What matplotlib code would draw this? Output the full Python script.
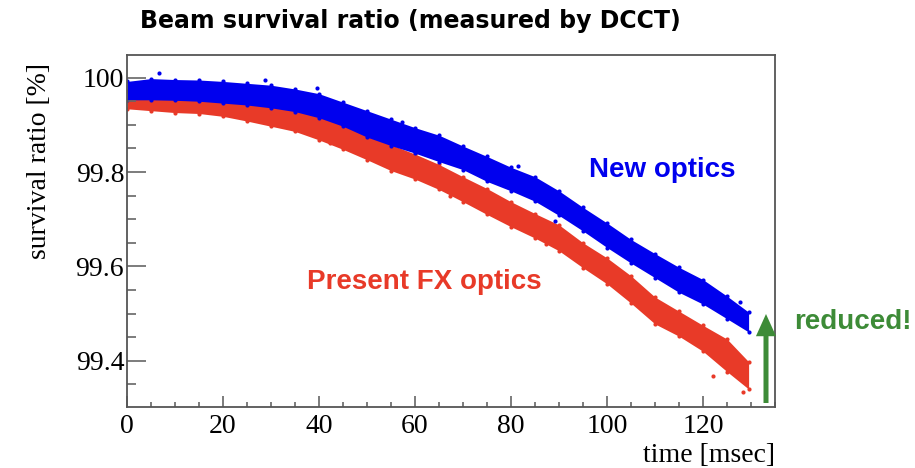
"""Beam survival ratio measured by DCCT: present FX optics vs new optics."""
import matplotlib
matplotlib.use("Agg")
import matplotlib.pyplot as plt
from matplotlib.ticker import MultipleLocator

# time [msec] at which the band edges were read
t = [0, 5, 10, 15, 20, 25, 30, 35, 40, 45, 50, 55, 60, 65, 70, 75, 80, 85,
     90, 95, 100, 105, 110, 115, 120, 125, 129.5]

# new optics (blue) band, upper / lower edge [%]
new_hi = [99.992, 99.998, 99.996, 99.995, 99.992, 99.988, 99.984, 99.976, 99.966,
          99.948, 99.930, 99.912, 99.894, 99.878, 99.855, 99.833, 99.810, 99.790,
          99.760, 99.725, 99.692, 99.657, 99.627, 99.598, 99.572, 99.537, 99.503]
new_lo = [99.953, 99.953, 99.952, 99.950, 99.946, 99.942, 99.936, 99.928, 99.915,
          99.897, 99.874, 99.856, 99.840, 99.822, 99.805, 99.780, 99.760, 99.738,
          99.708, 99.675, 99.640, 99.607, 99.576, 99.545, 99.520, 99.489, 99.461]

# present FX optics (red) band, upper / lower edge [%]
fx_hi = [99.972, 99.972, 99.970, 99.965, 99.960, 99.955, 99.948, 99.938, 99.925,
         99.900, 99.880, 99.858, 99.838, 99.816, 99.790, 99.765, 99.737, 99.712,
         99.688, 99.650, 99.618, 99.580, 99.535, 99.505, 99.475, 99.446, 99.398]
fx_lo = [99.934, 99.930, 99.926, 99.924, 99.918, 99.908, 99.897, 99.886, 99.868,
         99.848, 99.826, 99.803, 99.785, 99.763, 99.737, 99.710, 99.684, 99.660,
         99.633, 99.597, 99.563, 99.522, 99.478, 99.452, 99.420, 99.377, 99.340]

# isolated points standing out of each band
new_out_t = [6.6, 28.8, 39.6, 57.2, 81.5, 89.2, 127.7]
new_out_v = [100.010, 99.995, 99.978, 99.907, 99.812, 99.696, 99.524]
fx_out_t = [42.3, 59.0, 67.3, 87.3, 122.0, 128.4]
fx_out_v = [99.862, 99.799, 99.749, 99.647, 99.368, 99.334]

RED = "#e83a28"
BLUE = "#0000ee"
GREEN = "#3d8b37"
FRAME = "#555555"
SANS = ["Liberation Sans", "DejaVu Sans"]
SERIF = ["Liberation Serif", "DejaVu Serif"]


def band(ax, lo, hi, out_t, out_v, color):
    ax.fill_between(t, lo, hi, color=color, lw=0)
    ax.scatter(t + t, hi + lo, s=9, color=color, lw=0)
    ax.scatter(out_t, out_v, s=9, color=color, lw=0)


def main():
    W, H = 915, 468
    fig = plt.figure(figsize=(W / 100, H / 100), dpi=100)
    ax = fig.add_axes([127 / W, 1 - 407 / H, (775 - 127) / W, (407 - 55) / H])

    band(ax, fx_lo, fx_hi, fx_out_t, fx_out_v, RED)
    band(ax, new_lo, new_hi, new_out_t, new_out_v, BLUE)

    ax.set_xlim(0, 135)
    ax.set_ylim(99.302, 100.048)
    ax.xaxis.set_major_locator(MultipleLocator(20))
    ax.xaxis.set_minor_locator(MultipleLocator(5))
    ax.yaxis.set_major_locator(MultipleLocator(0.2))
    ax.yaxis.set_minor_locator(MultipleLocator(0.05))
    ax.yaxis.set_major_formatter(lambda v, p: f"{v:g}" if abs(v - 100) > 1e-6 else "100")

    for s in ax.spines.values():
        s.set_color(FRAME); s.set_linewidth(1.3)
    ax.tick_params(axis="both", which="both", direction="in", color="#666666", width=1.2)
    ax.tick_params(axis="y", which="major", length=13.5, pad=2)
    ax.tick_params(axis="y", which="minor", length=6.8)
    ax.tick_params(axis="x", which="major", length=8, pad=5)
    ax.tick_params(axis="x", which="minor", length=3.6)
    for lab in ax.get_xticklabels() + ax.get_yticklabels():
        lab.set_fontfamily(SERIF); lab.set_fontsize(20)

    fig.text(775 / W, 1 - 455 / H, "time [msec]", ha="right", va="center",
             family=SERIF, fontsize=20)
    fig.text(40 / W, 1 - 63 / H, "survival ratio [%]", ha="center", va="top",
             rotation=90, family=SERIF, fontsize=20)

    fig.text(410 / W, 1 - 21 / H, "Beam survival ratio (measured by DCCT)",
             ha="center", va="center", family=["DejaVu Sans"], weight="bold", fontsize=17)
    fig.text(662 / W, 1 - 170 / H, "New optics", ha="center", va="center",
             family=SANS, weight="bold", fontsize=20, color=BLUE)
    fig.text(424 / W, 1 - 282 / H, "Present FX optics", ha="center", va="center",
             family=SANS, weight="bold", fontsize=20, color=RED)
    fig.text(853 / W, 1 - 322 / H, "reduced!", ha="center", va="center",
             family=SANS, weight="bold", fontsize=20, color=GREEN)

    ax.annotate("", xy=(766, H - 314), xytext=(766, H - 403),
                xycoords="figure pixels", textcoords="figure pixels",
                arrowprops=dict(width=3.6, headwidth=14.5, headlength=16,
                                shrink=0, color=GREEN, lw=0),
                annotation_clip=False)

    fig.savefig("out.png", dpi=100)
    plt.close(fig)


if __name__ == "__main__": main()
